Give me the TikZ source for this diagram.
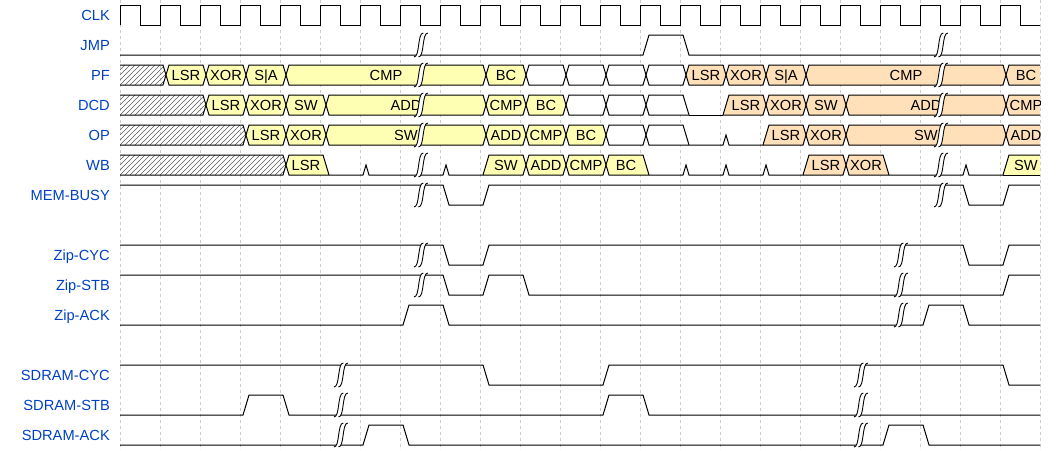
\documentclass[tikz,border=0pt]{standalone}
\usepackage{fontspec}
\setmainfont{Liberation Sans}
\definecolor{lbl}{HTML}{0041C4}
\definecolor{yel}{HTML}{FFFFB4}
\definecolor{org}{HTML}{FFE0B9}
\definecolor{grd}{HTML}{CCCCCC}
\newcommand\wf{\fontsize{14.67}{17}\selectfont}
\tikzset{
  wave/.style={line width=1pt, black, line join=miter},
  gapline/.style={line width=0.9pt, black},
  hatchline/.style={line width=0.5pt, black!65},
  gridline/.style={line width=0.8pt, grd, dash pattern=on 3pt off 3pt},
  lab/.style={anchor=base east, inner sep=0pt, text=lbl, font=\wf},
  dtext/.style={anchor=base, inner sep=0pt, font=\wf},
}
% edge fragments: L = left edge of a segment, R = right edge
\def\LTc{(\wxs+6,\wym) -- (\wxs+9,\wyt)}
\def\LBc{(\wxs+6,\wym) -- (\wxs+9,\wyb)}
\def\LQc{(\wxs+9,\wyb) -- (\wxs+6,\wym)}
\def\LTr{(\wxs+3,\wyb) -- (\wxs+9,\wyt)}
\def\LBr{(\wxs+3,\wyb)}
\def\LQr{(\wxs+3,\wyb)}
\def\RTc{(\wxe+3,\wyt) -- (\wxe+6,\wym)}
\def\RBc{(\wxe+3,\wyb) -- (\wxe+6,\wym)}
\def\RQc{(\wxe+6,\wym) -- (\wxe+3,\wyb)}
\def\RTf{(\wxe+3,\wyt) -- (\wxe+9,\wyb)}
\def\RBf{(\wxe+9,\wyb)}
\def\RQf{(\wxe+9,\wyb)}
\def\RTe{(\wxe,\wyt)}
\def\RBe{(\wxe,\wyb)}
\def\RQe{(\wxe,\wyb)}
% data segment: #1 top y, #2 start cycle, #3 end cycle, #4 left type, #5 right type, #6 fill, #7 text
\newcommand\dseg[7]{%
  \pgfmathsetmacro\wxs{120+40*#2}%
  \pgfmathsetmacro\wxe{120+40*#3}%
  \pgfmathsetmacro\wyt{#1}%
  \pgfmathsetmacro\wyb{#1+20}%
  \pgfmathsetmacro\wym{#1+10}%
  \pgfmathsetmacro\wxc{(\wxs+\wxe)/2+6}%
  \pgfmathsetmacro\wyl{#1+15.5}%
  \expandafter\let\expandafter\pLT\csname LT#4\endcsname
  \expandafter\let\expandafter\pLB\csname LB#4\endcsname
  \expandafter\let\expandafter\pLQ\csname LQ#4\endcsname
  \expandafter\let\expandafter\pRT\csname RT#5\endcsname
  \expandafter\let\expandafter\pRB\csname RB#5\endcsname
  \expandafter\let\expandafter\pRQ\csname RQ#5\endcsname
  \fill[#6] \pLT -- \pRT -- \pRQ -- \pLQ -- cycle;
  \draw[wave] \pLT -- \pRT;
  \draw[wave] \pLB -- \pRB;
  \node[dtext] at (\wxc,\wyl) {#7};
}
% hatched (unknown) segment from cycle 0 to #2
\newcommand\hseg[2]{%
  \pgfmathsetmacro\wxe{120+40*#2}%
  \pgfmathsetmacro\wyt{#1}\pgfmathsetmacro\wyb{#1+20}\pgfmathsetmacro\wym{#1+10}%
  \pgfmathsetmacro\wxh{\wxe+6}%
  \begin{scope}
    \clip (120,\wyt) -- (\wxe+3,\wyt) -- (\wxe+6,\wym) -- (\wxe+3,\wyb) -- (120,\wyb) -- cycle;
    \foreach \u in {100,105,...,\wxh} \draw[hatchline] (\u,\wyb) -- (\u+20,\wyt);
  \end{scope}
  \draw[wave] (120,\wyt) -- (\wxe+3,\wyt) -- (\wxe+6,\wym);
  \draw[wave] (120,\wyb) -- (\wxe+3,\wyb) -- (\wxe+6,\wym);
}
% gap mark: #1 centre x, #2 row top y
\newcommand\gap[2]{%
  \pgfmathsetmacro\wgt{#2-2}\pgfmathsetmacro\wgb{#2+22}%
  \fill[white] (#1+2.3,\wgt) .. controls (#1-3.7,\wgt) and (#1-1,\wgb) .. (#1-7,\wgb) -- (#1-2.5,\wgb) .. controls (#1+3.5,\wgb) and (#1+0.8,\wgt) .. (#1+6.8,\wgt) -- cycle;
  \draw[gapline] (#1+2.3,\wgt) .. controls (#1-3.7,\wgt) and (#1-1,\wgb) .. (#1-7,\wgb);
  \draw[gapline] (#1+6.8,\wgt) .. controls (#1+0.8,\wgt) and (#1+3.5,\wgb) .. (#1-2.5,\wgb);
}
\begin{document}
\begin{tikzpicture}[x=1pt,y=-1pt]
\useasboundingbox (0,0) rectangle (1060,450);
% grid
\foreach \k in {0,...,23} \draw[gridline] ({120+40*\k},0) -- ({120+40*\k},450);
% labels
\node[lab] (lclk) at (110,20.5) {CLK};
\node[lab] (ljmp) at (110,50.5) {JMP};
\node[lab] (lpf)  at (110,80.5) {PF};
\node[lab] (ldcd) at (110,110.5) {DCD};
\node[lab] (lop)  at (110,140.5) {OP};
\node[lab] (lwb)  at (110,170.5) {WB};
\node[lab] (lmem) at (110,200.5) {MEM-BUSY};
\node[lab] (lzc)  at (110,260.5) {Zip-CYC};
\node[lab] (lzs)  at (110,290.5) {Zip-STB};
\node[lab] (lza)  at (110,320.5) {Zip-ACK};
\node[lab] (lsc)  at (110,380.5) {SDRAM-CYC};
\node[lab] (lss)  at (110,410.5) {SDRAM-STB};
\node[lab] (lsa)  at (110,440.5) {SDRAM-ACK};
\begin{scope}
\clip (0,0) rectangle (1040,450);
% CLK
\draw[wave] (120,25) \foreach \k in {0,...,22} { -- ({120+40*\k},5) -- ({140+40*\k},5) -- ({140+40*\k},25) -- ({160+40*\k},25) };
% JMP
\draw[wave] (120,55) -- (643,55) -- (649,35) -- (683,35) -- (689,55) -- (1040,55);
% PF
\hseg{65}{1}
\dseg{65}{1}{2}{c}{c}{yel}{LSR}
\dseg{65}{2}{3}{c}{c}{yel}{XOR}
\dseg{65}{3}{4}{c}{c}{yel}{S|A}
\dseg{65}{4}{9}{c}{c}{yel}{CMP}
\dseg{65}{9}{10}{c}{c}{yel}{BC}
\dseg{65}{10}{11}{c}{c}{white}{}
\dseg{65}{11}{12}{c}{c}{white}{}
\dseg{65}{12}{13}{c}{c}{white}{}
\dseg{65}{13}{14}{c}{c}{white}{}
\dseg{65}{14}{15}{c}{c}{org}{LSR}
\dseg{65}{15}{16}{c}{c}{org}{XOR}
\dseg{65}{16}{17}{c}{c}{org}{S|A}
\dseg{65}{17}{22}{c}{c}{org}{CMP}
\dseg{65}{22}{23}{c}{e}{org}{BC}
% DCD
\hseg{95}{2}
\dseg{95}{2}{3}{c}{c}{yel}{LSR}
\dseg{95}{3}{4}{c}{c}{yel}{XOR}
\dseg{95}{4}{5}{c}{c}{yel}{SW}
\dseg{95}{5}{9}{c}{c}{yel}{ADD}
\dseg{95}{9}{10}{c}{c}{yel}{CMP}
\dseg{95}{10}{11}{c}{c}{yel}{BC}
\dseg{95}{11}{12}{c}{c}{white}{}
\dseg{95}{12}{13}{c}{c}{white}{}
\dseg{95}{13}{14}{c}{f}{white}{}
\draw[wave] (689,115) -- (723,115);
\dseg{95}{15}{16}{r}{c}{org}{LSR}
\dseg{95}{16}{17}{c}{c}{org}{XOR}
\dseg{95}{17}{18}{c}{c}{org}{SW}
\dseg{95}{18}{22}{c}{c}{org}{ADD}
\dseg{95}{22}{23}{c}{e}{org}{CMP}
% OP
\hseg{125}{3}
\dseg{125}{3}{4}{c}{c}{yel}{LSR}
\dseg{125}{4}{5}{c}{c}{yel}{XOR}
\dseg{125}{5}{9}{c}{c}{yel}{SW}
\dseg{125}{9}{10}{c}{c}{yel}{ADD}
\dseg{125}{10}{11}{c}{c}{yel}{CMP}
\dseg{125}{11}{12}{c}{c}{yel}{BC}
\dseg{125}{12}{13}{c}{c}{white}{}
\dseg{125}{13}{14}{c}{f}{white}{}
\draw[wave] (689,145) -- (723,145) -- (726,135) -- (729,145) -- (763,145);
\dseg{125}{16}{17}{r}{c}{org}{LSR}
\dseg{125}{17}{18}{c}{c}{org}{XOR}
\dseg{125}{18}{22}{c}{c}{org}{SW}
\dseg{125}{22}{23}{c}{e}{org}{ADD}
% WB
\hseg{155}{4}
\dseg{155}{4}{5}{c}{f}{yel}{LSR}
\draw[wave] (329,175) -- (363,175) -- (366,165) -- (369,175) -- (443,175) -- (446,165) -- (449,175) -- (483,175);
\dseg{155}{9}{10}{r}{c}{yel}{SW}
\dseg{155}{10}{11}{c}{c}{yel}{ADD}
\dseg{155}{11}{12}{c}{c}{yel}{CMP}
\dseg{155}{12}{13}{c}{f}{yel}{BC}
\draw[wave] (649,175) -- (683,175) -- (686,165) -- (689,175) -- (723,175) -- (726,165) -- (729,175) -- (763,175) -- (766,165) -- (769,175) -- (803,175);
\dseg{155}{17}{18}{r}{c}{org}{LSR}
\dseg{155}{18}{19}{c}{f}{org}{XOR}
\draw[wave] (889,175) -- (963,175) -- (966,165) -- (969,175) -- (1003,175);
\dseg{155}{22}{23}{r}{e}{yel}{SW}
% MEM-BUSY
\draw[wave] (120,185) -- (443,185) -- (449,205) -- (483,205) -- (489,185) -- (963,185) -- (969,205) -- (1003,205) -- (1009,185) -- (1040,185);
% Zip
\draw[wave] (120,245) -- (443,245) -- (449,265) -- (483,265) -- (489,245) -- (963,245) -- (969,265) -- (1003,265) -- (1009,245) -- (1040,245);
\draw[wave] (120,275) -- (443,275) -- (449,295) -- (483,295) -- (489,275) -- (523,275) -- (529,295) -- (1003,295) -- (1009,275) -- (1040,275);
\draw[wave] (120,325) -- (403,325) -- (409,305) -- (443,305) -- (449,325) -- (923,325) -- (929,305) -- (963,305) -- (969,325) -- (1040,325);
% SDRAM
\draw[wave] (120,365) -- (483,365) -- (489,385) -- (603,385) -- (609,365) -- (1003,365) -- (1009,385) -- (1040,385);
\draw[wave] (120,415) -- (243,415) -- (249,395) -- (283,395) -- (289,415) -- (603,415) -- (609,395) -- (643,395) -- (649,415) -- (1040,415);
\draw[wave] (120,445) -- (363,445) -- (369,425) -- (403,425) -- (409,445) -- (883,445) -- (889,425) -- (923,425) -- (929,445) -- (1040,445);
\end{scope}
% gaps
\foreach \t in {35,65,95,125,155,185} { \gap{421}{\t} \gap{941}{\t} }
\gap{421}{245} \gap{901}{245}
\gap{421}{275} \gap{901}{275}
\gap{901}{305}
\foreach \t in {365,395,425} { \gap{341}{\t} \gap{861}{\t} }
\end{tikzpicture}
\end{document}
